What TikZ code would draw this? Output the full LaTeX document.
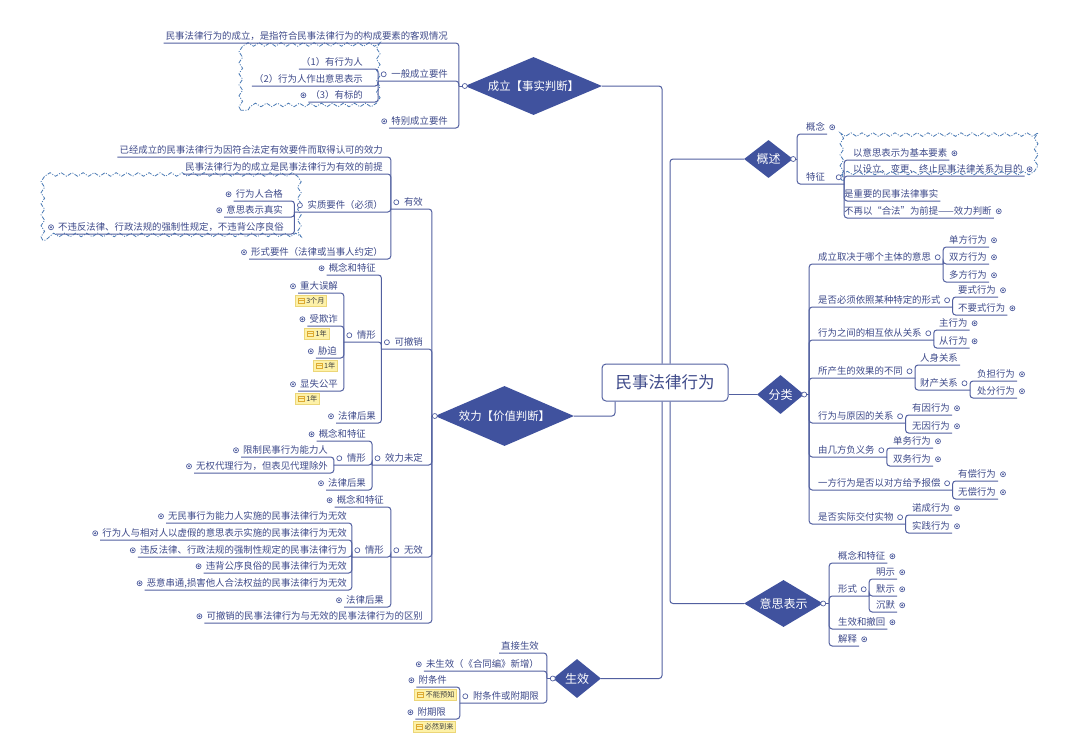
\documentclass[tikz,border=0pt]{standalone}
\usepackage{fontspec}
\setmainfont{Noto Sans CJK SC}
\usepackage{xcolor}
\usetikzlibrary{shapes.geometric, fit, decorations.pathmorphing}
\definecolor{mmline}{RGB}{82,96,160}
\definecolor{mmtext}{RGB}{62,74,138}
\definecolor{mmdia}{RGB}{64,82,158}
\definecolor{mmcloud}{RGB}{74,122,180}
\definecolor{notefill}{RGB}{253,241,168}
\definecolor{noteline}{RGB}{236,214,120}
\definecolor{noteicon}{RGB}{222,170,50}
\newcommand{\fsn}{\fontsize{9.4}{11}\selectfont}
\newcommand{\fdl}{\fontsize{11.4}{13}\selectfont}
\newcommand{\fds}{\fontsize{12}{14}\selectfont}

\begin{document}
\begin{tikzpicture}[x=1pt, y=-1pt,
    ln/.style={draw=mmline, line width=1pt, rounded corners=3pt},
    tp/.style={text=mmtext, font=\fsn, inner xsep=2pt, inner ysep=1.8pt, text height=8pt, text depth=1.5pt},
    lt/.style={tp, anchor=south east},
    rt/.style={tp, anchor=south west},
    lp/.style={lt, execute at begin node={\kern11pt}},
    rp/.style={rt, execute at end node={\kern10pt}},
    dia/.style={diamond, fill=mmdia, text=white, inner sep=1pt},
    hub/.style={draw=mmline, line width=1pt, fill=white, rounded corners=4pt, minimum width=126pt, minimum height=37pt, text=mmtext, font=\fontsize{16.5}{18}\selectfont},
    om/.style={draw=mmline, fill=white, line width=0.7pt},
    note/.style={anchor=north west, fill=notefill, draw=noteline, line width=0.5pt, text=black!75, font=\fontsize{7.2}{8}\selectfont, inner xsep=2pt, inner ysep=2pt, text height=6pt, text depth=1pt, execute at begin node={\kern9pt}},
    bnd/.style={draw=mmcloud, line width=0.8pt, dash pattern=on 4pt off 1.5pt on 1pt off 1.5pt, decorate, decoration={snake, segment length=11pt, amplitude=1.8pt}}]
  \fill[white] (0,0) rectangle (1080,748);
  \useasboundingbox (0,0) rectangle (1080,748);

  \node[hub] (root) at (665,382.5) {民事法律行为};
  \node[dia, aspect=2.36, minimum width=137pt, minimum height=58pt, font=\fdl] (cl) at (533.5,86) {成立【事实判断】};
  \node[dia, aspect=2.3, minimum width=139pt, minimum height=60pt, font=\fdl] (xl) at (504.5,416) {效力【价值判断】};
  \node[dia, aspect=1.23, minimum width=48pt, minimum height=39pt, font=\fds] (sx) at (577,678.5) {生效};
  \node[dia, aspect=1.29, minimum width=49pt, minimum height=38pt, font=\fds] (gs) at (768.5,159) {概述};
  \node[dia, aspect=1.2, minimum width=47pt, minimum height=39pt, font=\fds] (fl) at (780.5,394.5) {分类};
  \node[dia, aspect=1.68, minimum width=79pt, minimum height=47pt, font=\fds] (yl) at (783.5,603.5) {意思表示};

  \node[lt] (c1) at (450,43) {民事法律行为的成立，是指符合民事法律行为的构成要素的客观情况};
  \node[lp] (c2) at (450,81) {一般成立要件};
  \node[lt] (c21) at (365,69) {（1）有行为人};
  \node[lt] (c22) at (365,86) {（2）行为人作出意思表示};
  \node[lt] (c23) at (365,102) {（3）有标的};
  \node[lt] (c3) at (450,128) {特别成立要件};

  \node[lp] (y1) at (425,209) {有效};
  \node[lt] (y11) at (385,157) {已经成立的民事法律行为因符合法定有效要件而取得认可的效力};
  \node[lt] (y12) at (385,174) {民事法律行为的成立是民事法律行为有效的前提};
  \node[lp] (y13) at (385,212) {实质要件（必须）};
  \node[lt] (y131) at (285,201) {行为人合格};
  \node[lt] (y132) at (285,217) {意思表示真实};
  \node[lt] (y133) at (286,234) {不违反法律、行政法规的强制性规定，不违背公序良俗};
  \node[lt] (y14) at (385,259) {形式要件（法律或当事人约定）};
  \node[lp] (y2) at (425,349) {可撤销};
  \node[lt] (y21) at (378,275) {概念和特征};
  \node[lp] (y22) at (378,342) {情形};
  \node[lt] (y221) at (340,293) {重大误解};
  \node[lt] (y222) at (340,326) {受欺诈};
  \node[lt] (y223) at (339,358) {胁迫};
  \node[lt] (y224) at (340,391) {显失公平};
  \node[lt] (y23) at (378,423) {法律后果};
  \node[lp] (y3) at (425,465) {效力未定};
  \node[lt] (y31) at (368,441) {概念和特征};
  \node[lp] (y32) at (368,465) {情形};
  \node[lt] (y321) at (330,457) {限制民事行为能力人};
  \node[lt] (y322) at (330,473) {无权代理行为，但表见代理除外};
  \node[lt] (y33) at (368,490) {法律后果};
  \node[lp] (y4) at (425,557) {无效};
  \node[lt] (y41) at (386,507) {概念和特征};
  \node[lp] (y42) at (386,557) {情形};
  \node[lt] (y421) at (349,523) {无民事行为能力人实施的民事法律行为无效};
  \node[lt] (y422) at (349,540) {行为人与相对人以虚假的意思表示实施的民事法律行为无效};
  \node[lt] (y423) at (349,557) {违反法律、行政法规的强制性规定的民事法律行为};
  \node[lt] (y424) at (349,573) {违背公序良俗的民事法律行为无效};
  \node[lt] (y425) at (349,590) {恶意串通,损害他人合法权益的民事法律行为无效};
  \node[lt] (y43) at (386,607) {法律后果};
  \node[lt] (y5) at (425,623) {可撤销的民事法律行为与无效的民事法律行为的区别};

  \node[lt] (s1) at (541,653) {直接生效};
  \node[lt] (s2) at (541,671) {未生效（《合同编》新增）};
  \node[lp] (s3) at (541,703) {附条件或附期限};
  \node[lt] (s31) at (449,687) {附条件};
  \node[lt] (s32) at (448,719) {附期限};

  \node[rt] (g1) at (804,134) {概念};
  \node[rp] (g2) at (804,184) {特征\kern7pt};
  \node[rt] (g21) at (851,160) {以意思表示为基本要素};
  \node[rt] (g22) at (851,176) {以设立、变更、终止民事法律关系为目的};
  \node[rt] (g23) at (842,201) {是重要的民事法律事实};
  \node[rt] (g24) at (842,218) {不再以“合法”为前提——效力判断};

  \node[rp] (f1) at (816,264) {成立取决于哪个主体的意思};
  \node[rt] (f11) at (947,247) {单方行为};
  \node[rt] (f12) at (947,264) {双方行为};
  \node[rt] (f13) at (947,282) {多方行为};
  \node[rp] (f2) at (816,307) {是否必须依照某种特定的形式};
  \node[rt] (f21) at (956,297) {要式行为};
  \node[rt] (f22) at (956,315) {不要式行为};
  \node[rp] (f3) at (816,340) {行为之间的相互依从关系};
  \node[rt] (f31) at (937,330) {主行为};
  \node[rt] (f32) at (937,348) {从行为};
  \node[rp] (f4) at (816,378) {所产生的效果的不同};
  \node[rt] (f41) at (918,365) {人身关系};
  \node[rp] (f42) at (918,390) {财产关系};
  \node[rt] (f421) at (975,381) {负担行为};
  \node[rt] (f422) at (975,398) {处分行为};
  \node[rp] (f5) at (816,423) {行为与原因的关系};
  \node[rt] (f51) at (910,415) {有因行为};
  \node[rt] (f52) at (910,433) {无因行为};
  \node[rp] (f6) at (816,457) {由几方负义务};
  \node[rt] (f61) at (891,448) {单务行为};
  \node[rt] (f62) at (891,466) {双务行为};
  \node[rp] (f7) at (816,490) {一方行为是否以对方给予报偿};
  \node[rt] (f71) at (956,481) {有偿行为};
  \node[rt] (f72) at (956,499) {无偿行为};
  \node[rp] (f8) at (816,524) {是否实际交付实物};
  \node[rt] (f81) at (910,515) {诺成行为};
  \node[rt] (f82) at (910,533) {实践行为};

  \node[rt] (h1) at (836,563) {概念和特征};
  \node[rp] (h2) at (836,596) {形式};
  \node[rt] (h21) at (874,579) {明示};
  \node[rt] (h22) at (874,596) {默示};
  \node[rt] (h23) at (874,612) {沉默};
  \node[rt] (h3) at (836,629) {生效和撤回};
  \node[rt] (h4) at (836,646) {解释};

  \node[note] (n1) at ([shift={(-3pt,-2pt)}]y221.south west) {3个月};
  \node[note] (n2) at ([shift={(-3pt,-2pt)}]y222.south west) {1年};
  \node[note] (n3) at ([shift={(-3pt,-2pt)}]y223.south west) {1年};
  \node[note] (n4) at ([shift={(-3pt,-2pt)}]y224.south west) {1年};
  \node[note] (n5) at ([shift={(-2pt,-2pt)}]s31.south west) {不能预知};
  \node[note] (n6) at ([shift={(-2pt,-2pt)}]s32.south west) {必然到来};
  \foreach \n in {n1,n2,n3,n4,n5,n6} {
    \draw[noteicon, fill=notefill, line width=0.6pt] ([shift={(3pt,-2.5pt)}]\n.west) rectangle ++(6pt,5pt);
    \draw[noteicon, line width=0.6pt] ([shift={(3pt,0pt)}]\n.west) -- ++(6pt,0pt);
  }

  \node[fit=(c21)(c22)(c23), inner xsep=11pt, inner ysep=8pt] (cld1) {};
  \node[fit=(y131)(y132)(y133), inner xsep=13pt, inner ysep=6pt] (cld2) {};
  \node[fit=(g21)(g22), inner sep=0pt] (cld3) {};
  \foreach \b in {cld1,cld2}
    \draw[bnd] (\b.south west) rectangle (\b.north east);
  \draw[bnd] ([shift={(-9pt,-4pt)}]cld3.south west) rectangle ([shift={(15pt,9pt)}]cld3.north east);

  \draw[ln] (cl.east) -| ([xshift=-3pt]root.north);
  \draw[ln] (sx.east) -| ([xshift=-3pt]root.south);
  \draw[ln] (gs.west) -| ([xshift=5pt]root.north);
  \draw[ln] (yl.west) -| ([xshift=5pt]root.south);
  \draw[ln] (fl.west) -- (fl.west -| root.east);
  \draw[ln] (xl.east) -| ([xshift=-50pt]root.south);

  \draw[ln] (cl.west) -- ++(-6,0);
  \foreach \c in {c1,c2,c3} \draw[ln] (\c.south west) -| ([xshift=-6pt]cl.west);
  \foreach \c in {c21,c22,c23} \draw[ln] (\c.south west) -| (c2.south west);

  \draw[ln] (xl.west) -- ++(-3,0);
  \foreach \c in {y1,y2,y3,y4,y5} \draw[ln] (\c.south west) -| ([xshift=-3pt]xl.west);
  \foreach \c in {y11,y12,y13,y14} \draw[ln] (\c.south west) -| (y1.south west);
  \foreach \c in {y131,y132,y133} \draw[ln] (\c.south west) -| (y13.south west);
  \foreach \c in {y21,y22,y23} \draw[ln] (\c.south west) -| (y2.south west);
  \foreach \c in {y221,y222,y223,y224} \draw[ln] (\c.south west) -| (y22.south west);
  \foreach \c in {y31,y32,y33} \draw[ln] (\c.south west) -| (y3.south west);
  \foreach \c in {y321,y322} \draw[ln] (\c.south west) -| (y32.south west);
  \foreach \c in {y41,y42,y43} \draw[ln] (\c.south west) -| (y4.south west);
  \foreach \c in {y421,y422,y423,y424,y425} \draw[ln] (\c.south west) -| (y42.south west);

  \draw[ln] (sx.west) -- ++(-6,0);
  \foreach \c in {s1,s2,s3} \draw[ln] (\c.south west) -| ([xshift=-6pt]sx.west);
  \foreach \c in {s31,s32} \draw[ln] (\c.south west) -| (s3.south west);

  \draw[ln] (gs.east) -- ++(4,0);
  \foreach \c in {g1,g2} \draw[ln] (\c.south east) -| ([xshift=4pt]gs.east);
  \foreach \c in {g21,g22,g23,g24} \draw[ln] (\c.south east) -| (g2.south east);

  \draw[ln] (fl.east) -- ++(5,0);
  \foreach \c in {f1,f2,f3,f4,f5,f6,f7,f8} \draw[ln] (\c.south east) -| ([xshift=5pt]fl.east);
  \foreach \c in {f11,f12,f13} \draw[ln] (\c.south east) -| (f1.south east);
  \foreach \c in {f21,f22} \draw[ln] (\c.south east) -| (f2.south east);
  \foreach \c in {f31,f32} \draw[ln] (\c.south east) -| (f3.south east);
  \foreach \c in {f41,f42} \draw[ln] (\c.south east) -| (f4.south east);
  \foreach \c in {f421,f422} \draw[ln] (\c.south east) -| (f42.south east);
  \foreach \c in {f51,f52} \draw[ln] (\c.south east) -| (f5.south east);
  \foreach \c in {f61,f62} \draw[ln] (\c.south east) -| (f6.south east);
  \foreach \c in {f71,f72} \draw[ln] (\c.south east) -| (f7.south east);
  \foreach \c in {f81,f82} \draw[ln] (\c.south east) -| (f8.south east);

  \draw[ln] (yl.east) -- ++(6,0);
  \foreach \c in {h1,h2,h3,h4} \draw[ln] (\c.south east) -| ([xshift=6pt]yl.east);
  \foreach \c in {h21,h22,h23} \draw[ln] (\c.south east) -| (h2.south east);

  \foreach \n in {cl.west,xl.west,sx.west,gs.east,fl.east,yl.east}
    \draw[om] (\n) circle (2.5pt);
  \foreach \n in {c2,y1,y13,y2,y22,y3,y32,y4,y42,s3}
    \draw[om] ([xshift=5.5pt]\n.west) circle (2.5pt);
  \foreach \n in {g2,f1,f2,f3,f4,f5,f6,f7,f8,f42,h2}
    \draw[om] ([xshift=-5.5pt]\n.east) circle (2.5pt);
  \foreach \n in {c23,c3,y131,y132,y133,y14,y21,y221,y222,y223,y224,y23,y31,y321,y322,y33,y41,y421,y422,y423,y424,y425,y43,y5,s2,s31,s32} {
    \draw[om] ([xshift=-5pt]\n.west) circle (2.5pt);
    \fill[mmline] ([xshift=-5pt]\n.west) circle (1.2pt);
  }
  \foreach \n in {g1,g21,g22,g24,f11,f12,f13,f21,f22,f31,f32,f421,f422,f51,f52,f61,f62,f71,f72,f81,f82,h1,h21,h22,h23,h3,h4} {
    \draw[om] ([xshift=5pt]\n.east) circle (2.5pt);
    \fill[mmline] ([xshift=5pt]\n.east) circle (1.2pt);
  }
\end{tikzpicture}
\end{document}
